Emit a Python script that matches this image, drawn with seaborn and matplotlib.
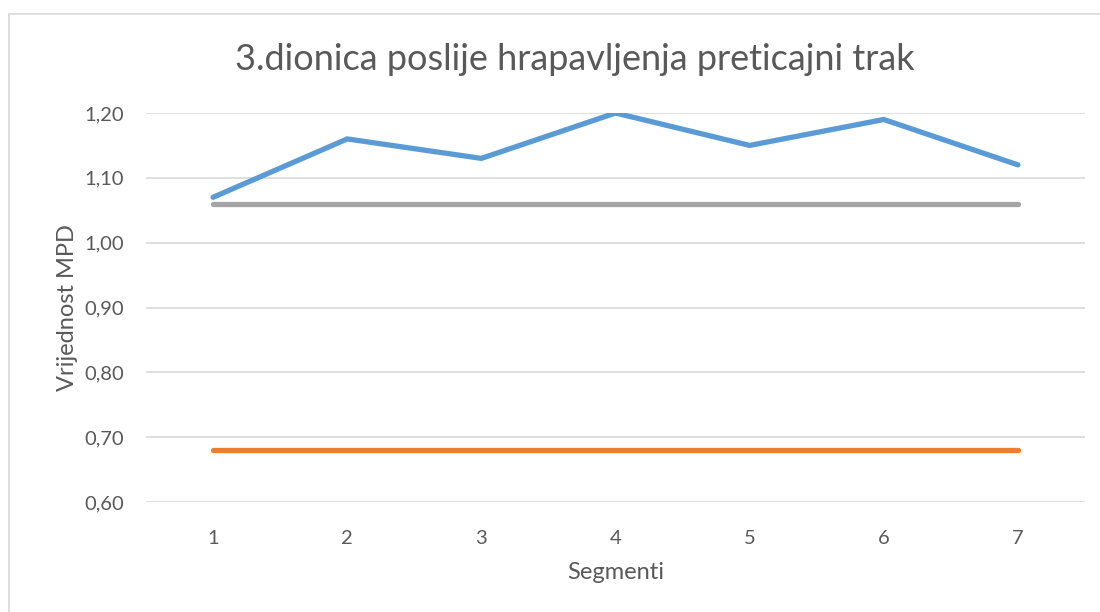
import matplotlib
matplotlib.use("Agg")
import matplotlib.pyplot as plt
import seaborn as sns
import pandas as pd
from matplotlib.patches import Rectangle

segments = [1, 2, 3, 4, 5, 6, 7]
measured = [1.07, 1.16, 1.13, 1.20, 1.15, 1.19, 1.12]
upper_ref = [1.06, 1.06, 1.06, 1.06, 1.06, 1.06, 1.06]
lower_ref = [0.68, 0.68, 0.68, 0.68, 0.68, 0.68, 0.68]
yticks = [0.60, 0.70, 0.80, 0.90, 1.00, 1.10, 1.20]
title = "3.dionica poslije hrapavljenja preticajni trak"
xlabel = "Segmenti"
ylabel = "Vrijednost MPD"

sns.set_theme(style="white")
plt.rcParams['font.family'] = ['Lato', 'DejaVu Sans']

fig = plt.figure(figsize=(11, 6.12), dpi=100)
ax = fig.add_axes([146/1100, 1-502/612, (1085-146)/1100, (502-113)/612])

txt = "#595959"
for vals, col in [(measured, "#5B9BD5"), (lower_ref, "#ED7D31"), (upper_ref, "#A5A5A5")]:
    sns.lineplot(x=segments, y=vals, ax=ax, color=col, linewidth=3.8,
                 solid_capstyle="round", solid_joinstyle="miter", zorder=3)

ax.set_xlim(0.5, 7.5)
ax.set_ylim(0.60, 1.20)
ax.set_yticks(yticks)
ax.set_yticklabels([f"{v:.2f}".replace(".", ",") for v in yticks])
ax.set_xticks(segments)
ax.set_xticklabels([str(s) for s in segments])
ax.yaxis.grid(True, color="#D9D9D9", linewidth=1.2)
ax.xaxis.grid(False)
for s in ax.spines.values():
    s.set_visible(False)
ax.tick_params(axis="both", length=0, labelsize=14.5, colors=txt)
ax.tick_params(axis="y", pad=16)
ax.tick_params(axis="x", pad=20)
ax.set_xlabel(xlabel, fontsize=17, color=txt, labelpad=11)
ax.set_ylabel(ylabel, fontsize=17, color=txt, labelpad=4)
for lbl in ax.get_yticklabels() + ax.get_xticklabels():
    lbl.set_color(txt)

fig.text(575/1100, 1-60/612, title, ha="center", va="center", fontsize=26, color=txt)
fig.patches.append(Rectangle((8.5/1100, -0.1), 1.0, 1.1-14.5/612, transform=fig.transFigure,
                             fill=False, edgecolor="#D9D9D9", linewidth=1.2))

fig.savefig("out.png", dpi=100)
